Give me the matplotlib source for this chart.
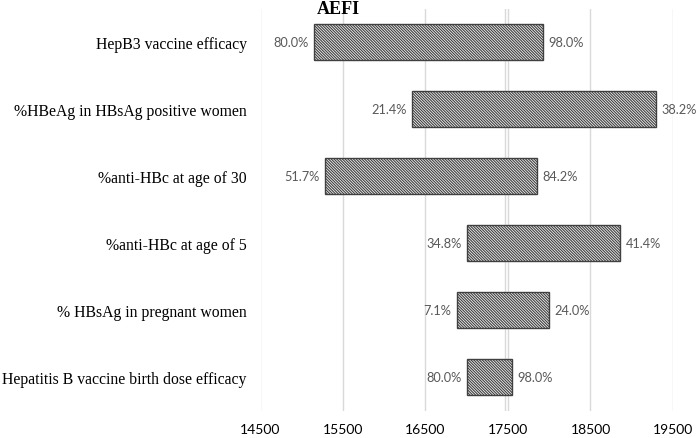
import matplotlib
matplotlib.use('Agg')
import matplotlib.pyplot as plt

# data (top to bottom)
categories = ['HepB3 vaccine efficacy',
              '%HBeAg in HBsAg positive women',
              '%anti-HBc at age of 30',
              '%anti-HBc at age of 5',
              '% HBsAg in pregnant women',
              'Hepatitis B vaccine birth dose efficacy']
low_values = [15152, 16336, 15282, 17003, 16882, 17003]
high_values = [17924, 19294, 17852, 18858, 17997, 17548]
low_labels = ['80.0%', '21.4%', '51.7%', '34.8%', '7.1%', '80.0%']
high_labels = ['98.0%', '38.2%', '84.2%', '41.4%', '24.0%', '98.0%']
base_value = 17464
xticks = [14500, 15500, 16500, 17500, 18500, 19500]

plt.rcParams['hatch.linewidth'] = 0.8
plt.rcParams['hatch.color'] = '#333333'

fig = plt.figure(figsize=(6.97, 4.39), dpi=100)
ax = fig.add_axes([260.5 / 697, 1 - 411.5 / 439, 412.5 / 697, 402 / 439])

ypos = list(range(len(categories)))
widths = [h - l for l, h in zip(low_values, high_values)]

# gridlines
for t in xticks:
    ax.axvline(t, color='#d9d9d9', lw=1, zorder=0)
ax.axvline(base_value, color='#d9d9d9', lw=1, zorder=0)

bars = ax.barh(ypos, widths, left=low_values, height=0.54,
               color='#f2f2f2', edgecolor='#404040', linewidth=1,
               hatch='\\' * 12, zorder=2)

for y, l, h, ll, hl in zip(ypos, low_values, high_values, low_labels, high_labels):
    ax.annotate(ll, (l, y), xytext=(-4, 0), textcoords='offset points',
                ha='right', va='center', fontsize=9.2, color='#595959',
                family='Lato')
    ax.annotate(hl, (h, y), xytext=(4, 0), textcoords='offset points',
                ha='left', va='center', fontsize=9.2, color='#595959',
                family='Lato')

ax.set_xlim(14500, 19500)
ax.set_ylim(len(categories) - 0.5, -0.5)
ax.set_xticks(xticks)
ax.set_xticklabels([str(t) for t in xticks], family='Lato', fontsize=10)
ax.set_yticks(ypos)
ax.set_yticklabels(categories, family='Liberation Serif', fontsize=11.3)
ax.tick_params(axis='both', length=0)
ax.tick_params(axis='y', pad=10)
ax.tick_params(axis='x', pad=9)
for s in ax.spines.values():
    s.set_visible(False)

fig.text(338 / 697, 1 - 9 / 439, 'AEFI', ha='center', va='center',
         family='Liberation Serif', fontweight='bold', fontsize=13)

fig.savefig('out.png', dpi=100)
